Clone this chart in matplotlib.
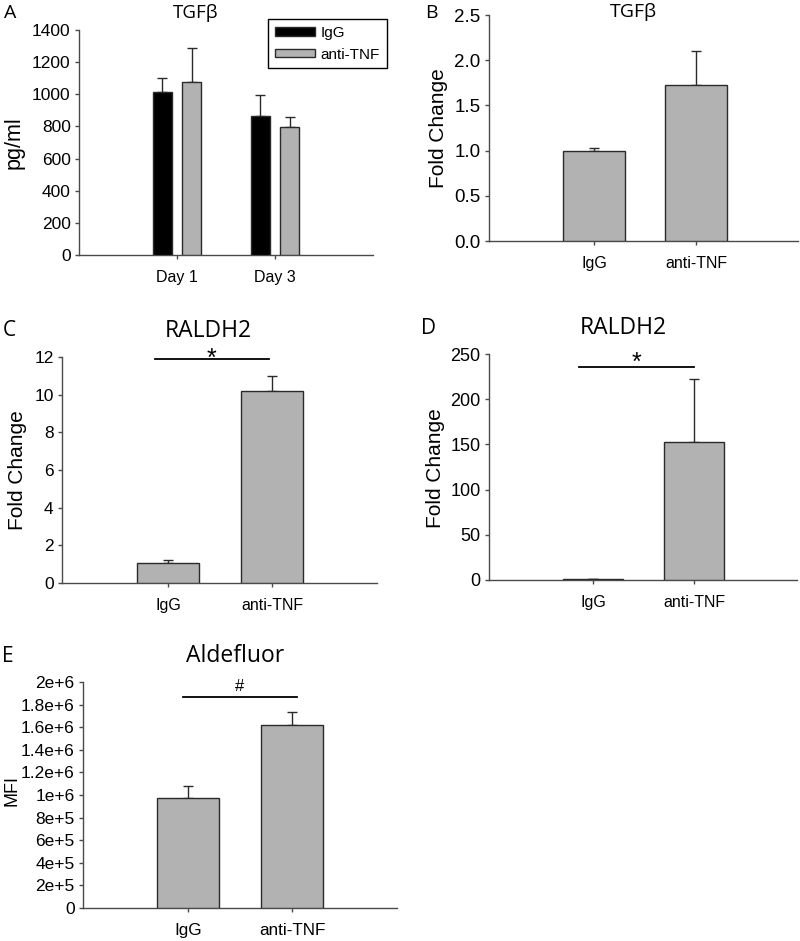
import matplotlib
matplotlib.use("Agg")
import matplotlib.pyplot as plt

# ---- data ----
groups = ["IgG", "anti-TNF"]
days = ["Day 1", "Day 3"]

# A: TGFb protein, pg/ml
tgf_igg = [1015, 862]
tgf_igg_err = [88, 132]
tgf_anti = [1078, 795]
tgf_anti_err = [208, 62]

# B: TGFb fold change
tgf_fc = [1.0, 1.725]
tgf_fc_err = [0.03, 0.375]

# C: RALDH2 fold change
raldh_c = [1.06, 10.2]
raldh_c_err = [0.17, 0.78]

# D: RALDH2 fold change
raldh_d = [1.2, 153]
raldh_d_err = [0.3, 69]

# E: Aldefluor MFI
mfi = [0.974e6, 1.619e6]
mfi_err = [0.11e6, 0.118e6]

# significance bars: (x start, x end, height, symbol)
sig_c = (-0.13, 0.97, 11.9, "*")
sig_d = (-0.14, 1.0, 236, "*")
sig_e = (-0.05, 1.05, 1.87e6, "#")

W, H = 800, 941
GRAY = "#b2b2b2"
EDGE = "#2a2a2a"
SPINE = "#4a4a4a"
TICKFONT = "Liberation Sans"
TITLEFONT = "Open Sans"

fig = plt.figure(figsize=(W / 100, H / 100), dpi=100)


def px_axes(left, top, right, bottom):
    return fig.add_axes([left / W, 1 - bottom / H, (right - left) / W, (bottom - top) / H])


def px_text(x, y, s, size, family=TITLEFONT, ha="center", va="center"):
    fig.text(x / W, 1 - y / H, s, fontsize=size, family=family, ha=ha, va=va)


def style(ax, xlim, ylim, yticks, yticklabels=None, tsize=12.5, xsize=11.5):
    for s in ["top", "right"]:
        ax.spines[s].set_visible(False)
    for s in ["left", "bottom"]:
        ax.spines[s].set_color(SPINE)
        ax.spines[s].set_linewidth(1.0)
    ax.set_xlim(*xlim)
    ax.set_ylim(*ylim)
    ax.set_yticks(yticks)
    if yticklabels is not None:
        ax.set_yticklabels(yticklabels)
    ax.tick_params(axis="y", direction="out", length=3, width=1, color=SPINE,
                   labelsize=tsize, pad=3)
    ax.tick_params(axis="x", direction="out", length=3, width=1, color=SPINE,
                   labelsize=xsize, pad=8)
    for lab in ax.get_xticklabels() + ax.get_yticklabels():
        lab.set_family(TICKFONT)


def ylabel(ax, s, x, y, size):
    # x is the right edge of the rotated label, in pixels
    ax.set_ylabel(s, fontsize=size, family=TICKFONT)
    ax.yaxis.set_label_coords(x / W, 1 - y / H, transform=fig.transFigure)


def bars2(ax, vals, errs):
    xs = range(len(groups))
    ax.bar(xs, vals, width=0.6, color=GRAY, edgecolor=EDGE, linewidth=1.0, zorder=3)
    ax.errorbar(xs, vals, yerr=[[0] * len(errs), errs], fmt="none",
                ecolor=EDGE, elinewidth=1.0, capsize=3.5, capthick=1.0, zorder=2)
    ax.set_xticks(list(xs))
    ax.set_xticklabels(groups)


def sig(ax, spec, size, dy):
    x0, x1, yv, sym = spec
    ax.plot([x0, x1], [yv, yv], color="black", lw=1.3, clip_on=False)
    ax.text((x0 + x1) / 2, yv + dy, sym, ha="center", va="baseline",
            fontsize=size, family=TICKFONT, clip_on=False)


# ---- A ----
axA = px_axes(79, 30, 373, 255)
xd = range(len(days))
off, bw = 0.15, 0.19
axA.bar([x - off for x in xd], tgf_igg, width=bw, color="black",
        edgecolor=EDGE, linewidth=1.0, label="IgG", zorder=3)
axA.bar([x + off for x in xd], tgf_anti, width=bw, color=GRAY,
        edgecolor=EDGE, linewidth=1.0, label="anti-TNF", zorder=3)
axA.errorbar([x - off for x in xd], tgf_igg, yerr=[[0, 0], tgf_igg_err], fmt="none",
             ecolor=EDGE, elinewidth=1.0, capsize=3.5, capthick=1.0, zorder=2)
axA.errorbar([x + off for x in xd], tgf_anti, yerr=[[0, 0], tgf_anti_err], fmt="none",
             ecolor=EDGE, elinewidth=1.0, capsize=3.5, capthick=1.0, zorder=2)
axA.set_xticks(list(xd))
axA.set_xticklabels(days)
style(axA, (-1.0, 2.0), (0, 1400), range(0, 1401, 200))
ylabel(axA, "pg/ml", 25, 143, 15.5)
leg = axA.legend(loc="upper left", bbox_to_anchor=(268 / W, 1 - 19 / H),
                 bbox_transform=fig.transFigure, fancybox=False, framealpha=1,
                 edgecolor="black", handlelength=2.6, handleheight=0.5,
                 handletextpad=0.4, borderaxespad=0, borderpad=0.45,
                 prop={"family": TICKFONT, "size": 11})
leg.get_frame().set_linewidth(1.0)
px_text(196, 13, "TGFβ", 13.5)
px_text(4, 13, "A", 14, ha="left")

# ---- B ----
axB = px_axes(489, 15, 798, 241)
bars2(axB, tgf_fc, tgf_fc_err)
style(axB, (-1.03, 2.0), (0, 2.5), [0, 0.5, 1.0, 1.5, 2.0, 2.5],
      ["0.0", "0.5", "1.0", "1.5", "2.0", "2.5"], tsize=13.5)
ylabel(axB, "Fold Change", 448, 128, 15)
px_text(633, 12, "TGFβ", 14)
px_text(425, 13, "B", 14, ha="left")

# ---- C ----
axC = px_axes(62, 357, 377, 583)
bars2(axC, raldh_c, raldh_c_err)
style(axC, (-1.02, 2.01), (0, 12), range(0, 13, 2), tsize=12.5)
ylabel(axC, "Fold Change", 27, 470, 15)
sig(axC, sig_c, 18, -0.36)
px_text(208, 331, "RALDH2", 16.5)
px_text(3, 331, "C", 15, ha="left")

# ---- D ----
axD = px_axes(489, 354, 797, 580)
bars2(axD, raldh_d, raldh_d_err)
style(axD, (-1.03, 2.02), (0, 250), range(0, 251, 50), tsize=13)
ylabel(axD, "Fold Change", 445, 468, 15)
sig(axD, sig_d, 18, -3.3)
px_text(623, 328, "RALDH2", 16.5)
px_text(421, 328, "D", 15, ha="left")

# ---- E ----
axE = px_axes(83, 682, 397, 908)
bars2(axE, mfi, mfi_err)
e_ticks = [i * 2e5 for i in range(11)]
e_labels = ["0", "2e+5", "4e+5", "6e+5", "8e+5", "1e+6",
            "1.2e+6", "1.4e+6", "1.6e+6", "1.8e+6", "2e+6"]
style(axE, (-1.01, 2.01), (0, 2e6), e_ticks, e_labels, xsize=12.3)
ylabel(axE, "MFI", 20, 790, 13)
sig(axE, sig_e, 12, 0.053e6)
px_text(235, 656, "Aldefluor", 16.5)
px_text(2, 656, "E", 15, ha="left")

fig.savefig("out.png", dpi=100)
